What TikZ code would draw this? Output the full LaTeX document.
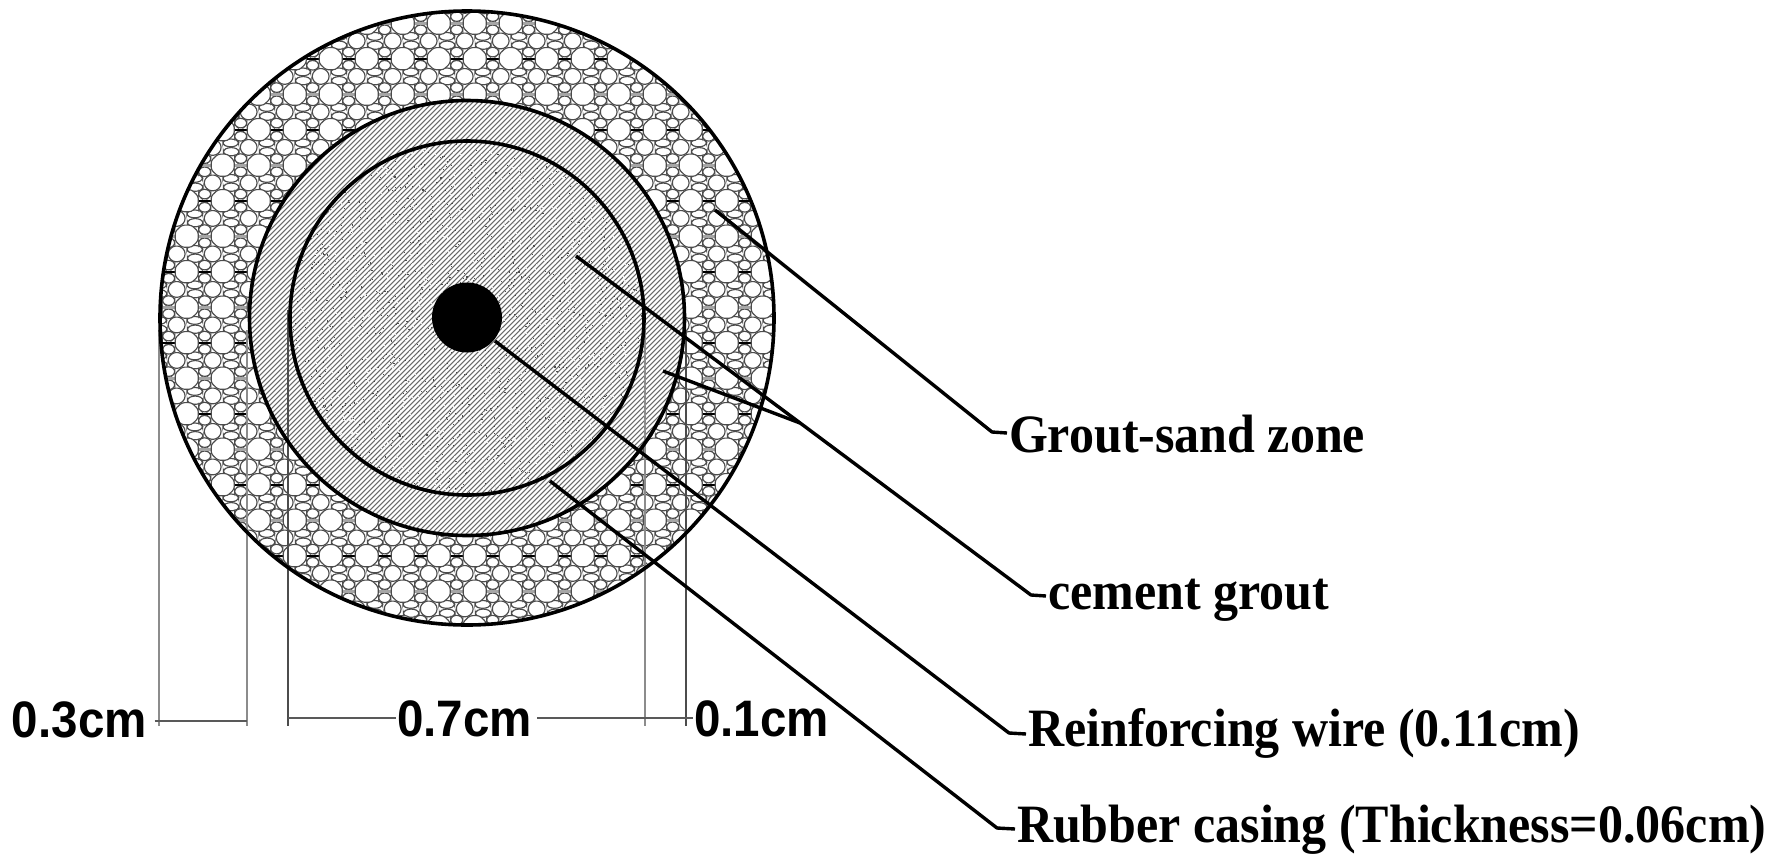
\documentclass[tikz,border=0pt]{standalone}
\usepackage{fontspec}
\usepackage{graphicx}
\setmainfont{Liberation Serif}
\setsansfont{Liberation Sans}
\newcommand{\mypeb}[4]{%
  \path[pebble] ({#1+.92*#3},{#2-.38*#4}) -- ({#1+.38*#3},{#2-.92*#4}) -- ({#1-.38*#3},{#2-.92*#4}) -- ({#1-.92*#3},{#2-.38*#4})
   -- ({#1-.92*#3},{#2+.38*#4}) -- ({#1-.38*#3},{#2+.92*#4}) -- ({#1+.38*#3},{#2+.92*#4}) -- ({#1+.92*#3},{#2+.38*#4}) -- cycle;}
\newcommand{\tall}[1]{\scalebox{1}[1.08]{#1}}
\begin{document}
\begin{tikzpicture}[x=1pt,y=-1pt,
  ringline/.style={line width=3.6pt,black},
  leader/.style={line width=3.4pt,black,line join=round},
  extgray/.style={line width=1.5pt,black!45},
  extdark/.style={line width=1.5pt,black!70},
  dimline/.style={line width=2pt,black!65},
  pebble/.style={draw=black!70,line width=1.15pt,fill=white,rounded corners=2.5pt},
  hatchline/.style={line width=1.05pt,black!58},
  lbl/.style={font=\fontsize{50}{56}\selectfont\bfseries,anchor=base west,inner sep=0pt,outer sep=0pt},
  dimlbl/.style={font=\sffamily\fontsize{47.5}{52}\selectfont\bfseries,anchor=base west,inner sep=0pt,outer sep=0pt}]
\useasboundingbox (0,0) rectangle (1774,865);
\fill[white] (0,0) rectangle (1774,865);
\coordinate (c) at (467,318);
% pebble ring
\begin{scope}
\clip (c) circle (307);
\foreach \i in {-1,...,16}{
 \foreach \j in {-8,...,10}{
  \pgfmathsetmacro{\px}{186.7+36*\i}
  \pgfmathsetmacro{\py}{271.7+35.5*\j}
  \begin{scope}[shift={(\px,\py)}]
   \mypeb{8}{13.2}{8.5}{4.2}
   \mypeb{8.5}{22}{8.5}{4.4}
   \mypeb{18}{-6.6}{6.6}{5.2}
   \mypeb{18}{6.6}{6.6}{5.2}
   \pgfmathparse{int(mod(\j+16,2))}
   \ifnum\pgfmathresult=0
     \draw[line width=2.4pt,black] (12,0) -- (24,0);
   \else
     \draw[line width=2.6pt,black!35] (12,0) -- (24,0);
   \fi
  \end{scope}
 }
}
\foreach \i in {-1,...,16}{
 \foreach \j in {-8,...,10}{
  \pgfmathsetmacro{\px}{186.7+36*\i}
  \pgfmathsetmacro{\py}{271.7+35.5*\j}
  \begin{scope}[shift={(\px,\py)}]
   \mypeb{-10}{17.7}{9}{8.5}
   \mypeb{0}{0}{12.5}{12}
  \end{scope}
 }
}
\end{scope}
% hatched zones
\begin{scope}
\clip (c) circle (217.5);
\fill[white] (c) circle (217.5);
\foreach \k in {470,475,...,1095}{
  \draw[hatchline] ({\k-90},90) -- ({\k-550},550);
}
\end{scope}
\begin{scope}
\clip (c) circle (177);
\pgfmathsetseed{4711}
\foreach \n in {1,...,1800}{
  \pgfmathsetmacro{\qx}{290+rnd*354}
  \pgfmathsetmacro{\qy}{141+rnd*354}
  \fill[black!8] (\qx,\qy) rectangle ++(1.2,1.2);
}
\pgfmathsetseed{1312}
\foreach \n in {1,...,1500}{
  \pgfmathsetmacro{\qx}{290+rnd*354}
  \pgfmathsetmacro{\qy}{141+rnd*354}
  \fill[black!70] (\qx,\qy) rectangle ++(1.1,1.1);
}
\end{scope}
% extension lines
\coordinate (e1t) at (159,330); \coordinate (e1b) at (159,726);
\coordinate (e2t) at (247,330); \coordinate (e2b) at (247,726);
\coordinate (e3t) at (288,310); \coordinate (e3b) at (288,726);
\coordinate (e4t) at (645,330); \coordinate (e4b) at (645,726);
\coordinate (e5t) at (686,330); \coordinate (e5b) at (686,726);
\draw[extgray] (e1t) -- (e1b);
\draw[extgray] (e2t) -- (e2b);
\draw[extdark] (e3t) -- (e3b);
\draw[extgray] (e4t) -- (e4b);
\draw[extdark] (e5t) -- (e5b);
% circles
\draw[ringline] (c) circle (307);
\draw[ringline] (c) circle (217.5);
\draw[ringline] (c) circle (177);
\node[circle,fill=black,draw=none,minimum size=70pt,inner sep=0pt] (wire) at (467,317.5) {};
% labels
\node[lbl] (grout) at (1009,452) {\tall{Grout-sand zone}};
\node[lbl] (cement) at (1048,609) {\tall{cement grout}};
\node[lbl] (reinf) at (1028,746) {\tall{Reinforcing wire (0.11cm)}};
\node[lbl] (rubber) at (1017,842) {\tall{Rubber casing (Thickness=0.06cm)}};
\node[dimlbl] (d3) at (12,737) {\tall{0.3cm}};
\node[dimlbl] (d7) at (397,736) {\tall{0.7cm}};
\node[dimlbl] (d1) at (694,736) {\tall{0.1cm}};
% leaders
\coordinate (s1) at (715,210); \coordinate (k1) at (992,432); \coordinate (t1) at (1007,433);
\coordinate (s2) at (576,256); \coordinate (k2) at (1031,595); \coordinate (t2) at (1046,596);
\coordinate (s3) at (663,371); \coordinate (j3) at (800,423);
\coordinate (s4) at (495,341); \coordinate (k4) at (1009,733); \coordinate (t4) at (1026,734);
\coordinate (s5) at (550,481); \coordinate (k5) at (997,828); \coordinate (t5) at (1015,829);
\draw[leader] (s1) -- (k1) -- (t1);
\draw[leader] (s2) -- (k2) -- (t2);
\draw[leader] (s3) -- (j3);
\draw[leader] (s4) -- (k4) -- (t4);
\draw[leader] (s5) -- (k5) -- (t5);
% dimension lines
\draw[dimline] (d3.east |- 0,720.5) ++(8,0) -- (e2b |- 0,720.5);
\draw[dimline] (e3b |- 0,718) -- (396,718);
\draw[dimline] (537,718) -- (693,718);
\end{tikzpicture}
\end{document}
